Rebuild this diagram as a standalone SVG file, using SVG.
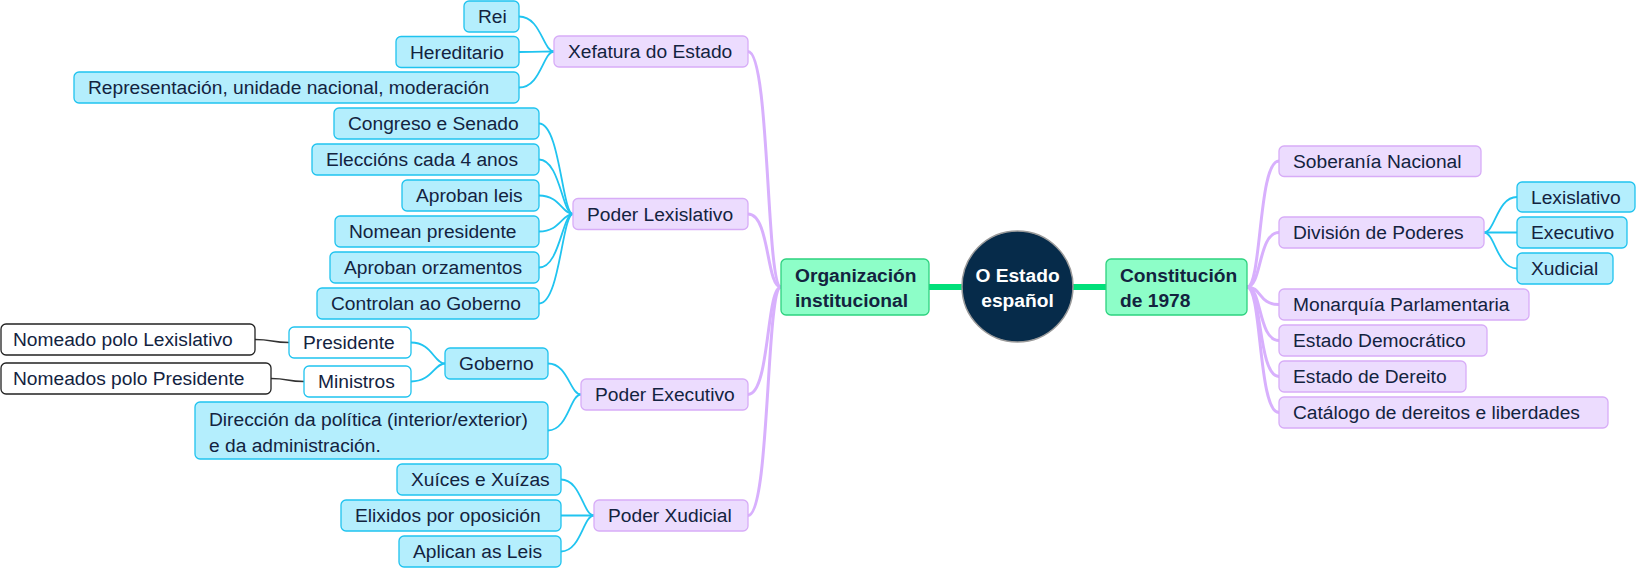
<svg xmlns="http://www.w3.org/2000/svg" width="1636" height="568" viewBox="0 0 1636 568">
<style>
.t{font-family:"Liberation Sans",Arial,sans-serif;font-size:19.2px;fill:#13233f}
.b{font-weight:bold}
.w{fill:#ffffff;text-anchor:middle}
.lav{fill:#ecdcfe;stroke:#d7acf7;stroke-width:1.3}
.cy{fill:#b4eefd;stroke:#1fc3ef;stroke-width:1.3}
.wc{fill:#ffffff;stroke:#1fc3ef;stroke-width:1.3}
.wk{fill:#ffffff;stroke:#222222;stroke-width:1.3}
.gr{fill:#8dfec8;stroke:#2dd27f;stroke-width:1.3}
.cl{fill:none;stroke:#d8b0fd;stroke-width:3}
.cc{fill:none;stroke:#20c4f0;stroke-width:1.8}
.ck{fill:none;stroke:#333333;stroke-width:1.5}
.cg{fill:none;stroke:#00e07a;stroke-width:6}
</style>
<rect width="1636" height="568" fill="#ffffff"/>
<g id="connectors">
<path class="cg" d="M929,287 H962 M1073,287 H1106"/>
<path class="cl" d="M781,287 C766,287 770,51.5 748,51.5"/>
<path class="cl" d="M781,287 C766,287 770,214 748,214"/>
<path class="cl" d="M781,287 C766,287 770,394.5 748,394.5"/>
<path class="cl" d="M781,287 C766,287 770,515.5 748,515.5"/>
<path class="cl" d="M1247,287 C1262,287 1258,161 1279,161"/>
<path class="cl" d="M1247,287 C1262,287 1258,232.5 1279,232.5"/>
<path class="cl" d="M1247,287 C1262,287 1258,304.5 1279,304.5"/>
<path class="cl" d="M1247,287 C1262,287 1258,340.5 1279,340.5"/>
<path class="cl" d="M1247,287 C1262,287 1258,376.5 1279,376.5"/>
<path class="cl" d="M1247,287 C1262,287 1258,412.5 1279,412.5"/>
<path class="cc" d="M554,51.5 C543,51.5 541,16.5 519,16.5"/>
<path class="cc" d="M554,51.5 C543,51.5 541,52 519,52"/>
<path class="cc" d="M554,51.5 C543,51.5 541,87.5 519,87.5"/>
<path class="cc" d="M573,214 C562,214 560,123.5 539,123.5"/>
<path class="cc" d="M573,214 C562,214 560,159.5 539,159.5"/>
<path class="cc" d="M573,214 C562,214 560,195.5 539,195.5"/>
<path class="cc" d="M573,214 C562,214 560,231.5 539,231.5"/>
<path class="cc" d="M573,214 C562,214 560,267.5 539,267.5"/>
<path class="cc" d="M573,214 C562,214 560,303.5 539,303.5"/>
<path class="cc" d="M581,394.5 C570,394.5 568,363.5 548,363.5"/>
<path class="cc" d="M581,394.5 C570,394.5 568,430.5 548,430.5"/>
<path class="cc" d="M445,363.5 C434,363.5 432,342.5 411,342.5"/>
<path class="cc" d="M445,363.5 C434,363.5 432,381.5 411,381.5"/>
<path class="cc" d="M594,515.5 C583,515.5 581,479.5 561,479.5"/>
<path class="cc" d="M594,515.5 C583,515.5 581,515.5 561,515.5"/>
<path class="cc" d="M594,515.5 C583,515.5 581,551.5 561,551.5"/>
<path class="cc" d="M1484,232.5 C1495,232.5 1497,197 1517,197"/>
<path class="cc" d="M1484,232.5 C1495,232.5 1497,232.5 1517,232.5"/>
<path class="cc" d="M1484,232.5 C1495,232.5 1497,268.5 1517,268.5"/>
<path class="ck" d="M289,342.5 C271,342.5 273,339.5 255,339.5"/>
<path class="ck" d="M304,381.5 C286,381.5 289,378.5 271,378.5"/>
</g>
<g id="center"><circle cx="1017.5" cy="286.5" r="55.5" fill="#062b4a" stroke="#9a9a9a" stroke-width="1.5"/><text class="t b w" x="1017.5" y="282">O Estado</text><text class="t b w" x="1017.5" y="307">español</text></g>
<g id="organizacion"><rect class="gr" x="781" y="259" width="148" height="56" rx="5"/><text class="t b" x="795" y="282">Organización</text><text class="t b" x="795" y="307">institucional</text></g>
<g id="constitucion"><rect class="gr" x="1106" y="259" width="141" height="56" rx="5"/><text class="t b" x="1120" y="282">Constitución</text><text class="t b" x="1120" y="307">de 1978</text></g>
<g id="xefatura"><rect class="lav" x="554" y="36" width="194" height="31" rx="5"/><text class="t" x="568" y="58.3">Xefatura do Estado</text></g>
<g id="rei"><rect class="cy" x="464" y="1" width="55" height="31" rx="5"/><text class="t" x="478" y="23.3">Rei</text></g>
<g id="hereditario"><rect class="cy" x="396" y="36.5" width="123" height="31" rx="5"/><text class="t" x="410" y="58.8">Hereditario</text></g>
<g id="representacion"><rect class="cy" x="74" y="72" width="445" height="31" rx="5"/><text class="t" x="88" y="94.3">Representación, unidade nacional, moderación</text></g>
<g id="lexislativo"><rect class="lav" x="573" y="198.5" width="175" height="31" rx="5"/><text class="t" x="587" y="220.8">Poder Lexislativo</text></g>
<g id="congreso"><rect class="cy" x="334" y="108" width="205" height="31" rx="5"/><text class="t" x="348" y="130.3">Congreso e Senado</text></g>
<g id="eleccions"><rect class="cy" x="312" y="144" width="227" height="31" rx="5"/><text class="t" x="326" y="166.3">Eleccións cada 4 anos</text></g>
<g id="aprobanleis"><rect class="cy" x="402" y="180" width="137" height="31" rx="5"/><text class="t" x="416" y="202.3">Aproban leis</text></g>
<g id="nomean"><rect class="cy" x="335" y="216" width="204" height="31" rx="5"/><text class="t" x="349" y="238.3">Nomean presidente</text></g>
<g id="orzamentos"><rect class="cy" x="330" y="252" width="209" height="31" rx="5"/><text class="t" x="344" y="274.3">Aproban orzamentos</text></g>
<g id="controlan"><rect class="cy" x="317" y="288" width="222" height="31" rx="5"/><text class="t" x="331" y="310.3">Controlan ao Goberno</text></g>
<g id="executivo"><rect class="lav" x="581" y="379" width="167" height="31" rx="5"/><text class="t" x="595" y="401.3">Poder Executivo</text></g>
<g id="goberno"><rect class="cy" x="445" y="348" width="103" height="31" rx="5"/><text class="t" x="459" y="370.3">Goberno</text></g>
<g id="direccion"><rect class="cy" x="195" y="402" width="353" height="57" rx="5"/><text class="t" x="209" y="426">Dirección da política (interior/exterior)</text><text class="t" x="209" y="451.5">e da administración.</text></g>
<g id="presidente"><rect class="wc" x="289" y="327" width="122" height="31" rx="5"/><text class="t" x="303" y="349.3">Presidente</text></g>
<g id="ministros"><rect class="wc" x="304" y="366" width="107" height="31" rx="5"/><text class="t" x="318" y="388.3">Ministros</text></g>
<g id="nomeado"><rect class="wk" x="1" y="324" width="254" height="31" rx="5"/><text class="t" x="13" y="346.3">Nomeado polo Lexislativo</text></g>
<g id="nomeados"><rect class="wk" x="1" y="363" width="270" height="31" rx="5"/><text class="t" x="13" y="385.3">Nomeados polo Presidente</text></g>
<g id="xudicial"><rect class="lav" x="594" y="500" width="154" height="31" rx="5"/><text class="t" x="608" y="522.3">Poder Xudicial</text></g>
<g id="xuices"><rect class="cy" x="397" y="464" width="164" height="31" rx="5"/><text class="t" x="411" y="486.3">Xuíces e Xuízas</text></g>
<g id="elixidos"><rect class="cy" x="341" y="500" width="220" height="31" rx="5"/><text class="t" x="355" y="522.3">Elixidos por oposición</text></g>
<g id="aplican"><rect class="cy" x="399" y="536" width="162" height="31" rx="5"/><text class="t" x="413" y="558.3">Aplican as Leis</text></g>
<g id="soberania"><rect class="lav" x="1279" y="146" width="202" height="30.5" rx="5"/><text class="t" x="1293" y="167.8">Soberanía Nacional</text></g>
<g id="division"><rect class="lav" x="1279" y="217" width="205" height="31" rx="5"/><text class="t" x="1293" y="239.3">División de Poderes</text></g>
<g id="r-lexislativo"><rect class="cy" x="1517" y="182" width="118" height="30" rx="5"/><text class="t" x="1531" y="203.8">Lexislativo</text></g>
<g id="r-executivo"><rect class="cy" x="1517" y="217" width="110" height="31" rx="5"/><text class="t" x="1531" y="239.3">Executivo</text></g>
<g id="r-xudicial"><rect class="cy" x="1517" y="253" width="96" height="31" rx="5"/><text class="t" x="1531" y="275.3">Xudicial</text></g>
<g id="monarquia"><rect class="lav" x="1279" y="289" width="250" height="31" rx="5"/><text class="t" x="1293" y="311.3">Monarquía Parlamentaria</text></g>
<g id="democratico"><rect class="lav" x="1279" y="325" width="208" height="31" rx="5"/><text class="t" x="1293" y="347.3">Estado Democrático</text></g>
<g id="dereito"><rect class="lav" x="1279" y="361" width="187" height="31" rx="5"/><text class="t" x="1293" y="383.3">Estado de Dereito</text></g>
<g id="catalogo"><rect class="lav" x="1279" y="397" width="329" height="31" rx="5"/><text class="t" x="1293" y="419.3">Catálogo de dereitos e liberdades</text></g>
</svg>
